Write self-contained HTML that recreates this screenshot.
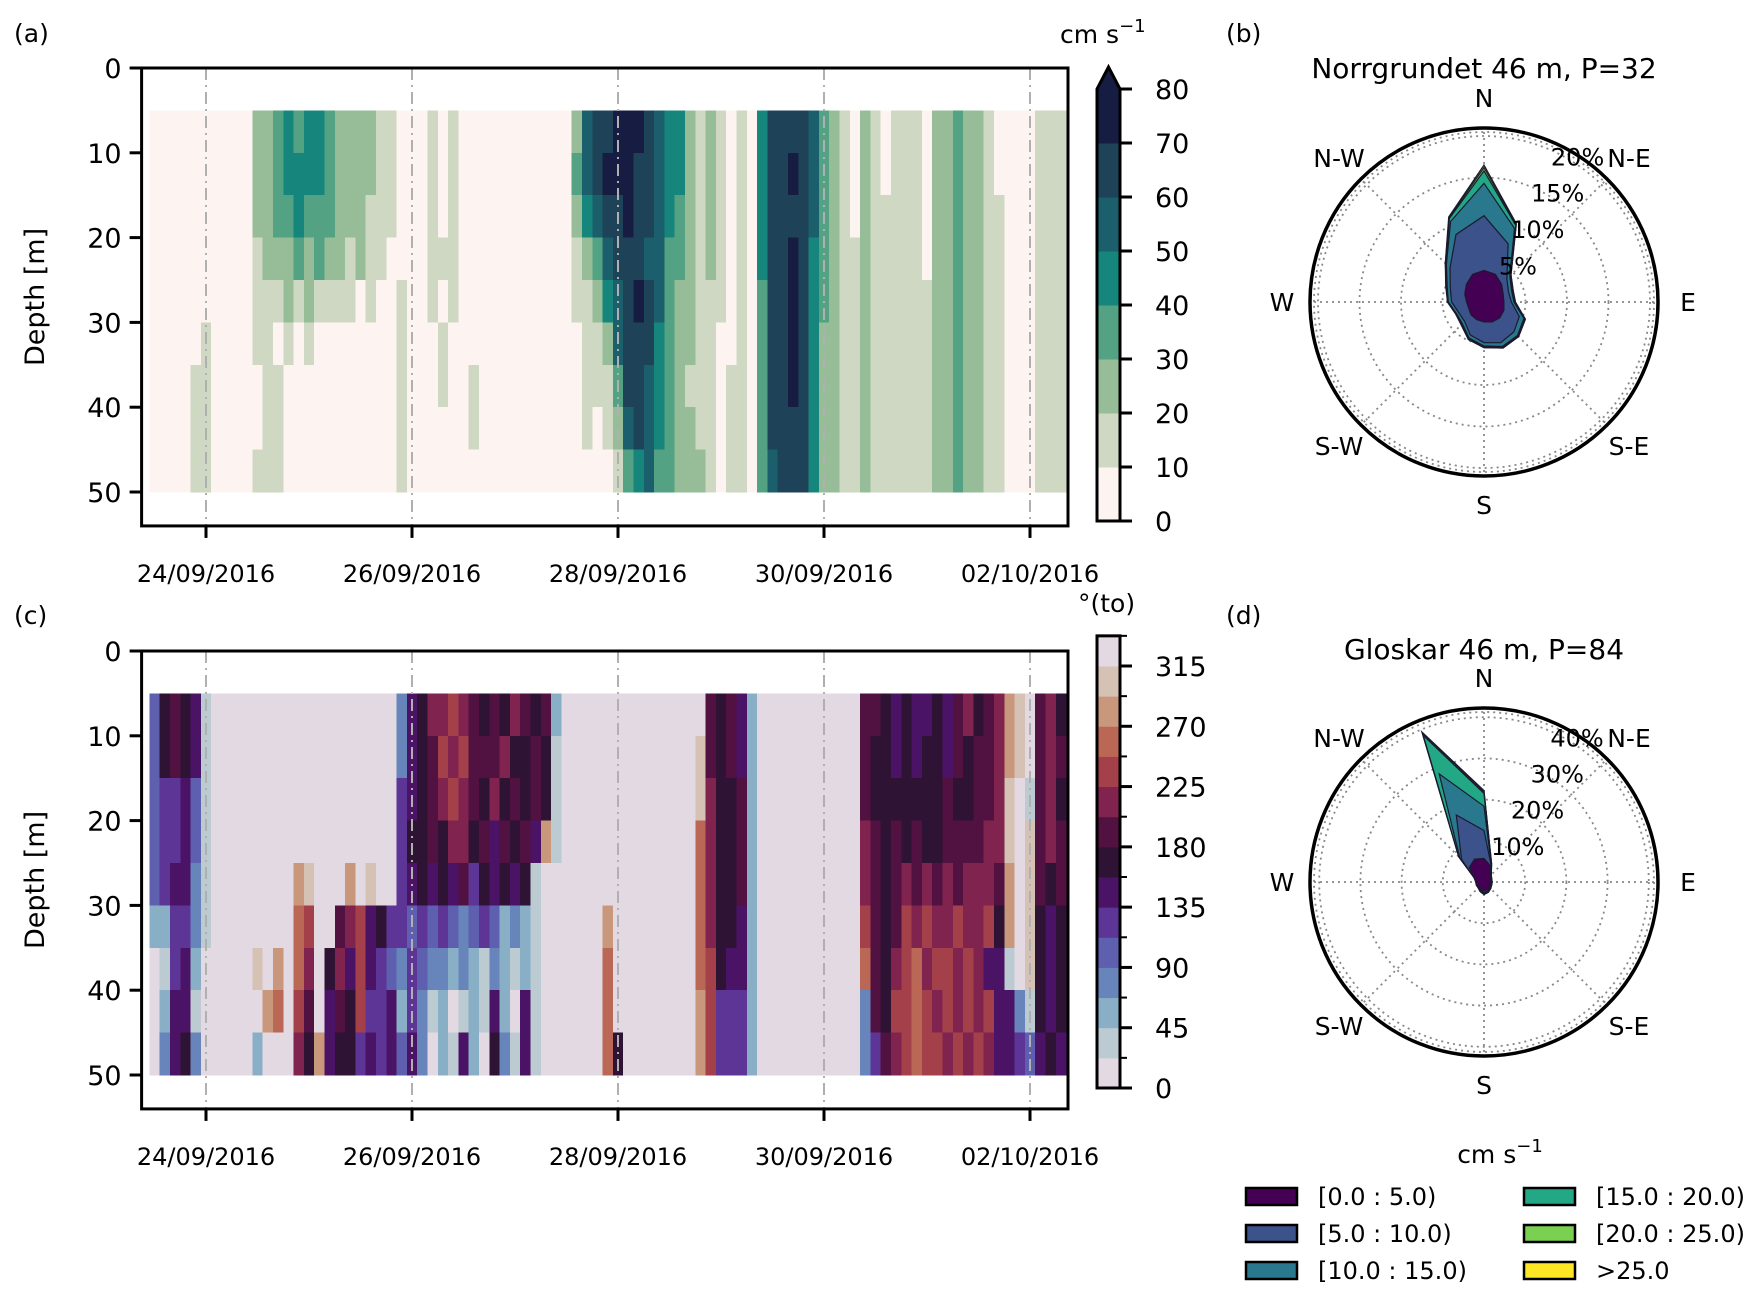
<!DOCTYPE html>
<html><head><meta charset="utf-8">
<style>
html,body{margin:0;padding:0;background:#fff;}
svg text{font-family:"DejaVu Sans","Liberation Sans",sans-serif;fill:#000;}
</style></head>
<body>
<svg id="fig" width="1761" height="1293" viewBox="0 0 1761 1293" xmlns="http://www.w3.org/2000/svg">
<g id="pa"></g>
<g id="pc"></g>
<g id="pb"></g>
<g id="pd"></g>
<g id="leg"></g>
</svg>
<script>
// ---- data ----
const dateTicks = [1,3,5,7,9];
const dateLabels = ['24/09/2016','26/09/2016','28/09/2016','30/09/2016','02/10/2016'];
const depthTicks = [0,10,20,30,40,50];
const colT0 = 0.45, colDt = 0.1;
const speedRows = [
"0000000000"+"22"+"343443"+"222211"+"000"+"1010"+"0000000000"+"25667776544212"+"1010"+"466665"+"321021011102232210000111",
"0000000000"+"22"+"344443"+"222211"+"000"+"1010"+"0000000000"+"35677766544212"+"1010"+"466765"+"321021011102232210000111",
"0000000000"+"22"+"334333"+"222111"+"000"+"1010"+"0000000000"+"24566766543212"+"1010"+"466665"+"321021111102232211000111",
"0000000000"+"12"+"223232"+"212110"+"000"+"1110"+"0000000000"+"12356665533212"+"1010"+"466764"+"321121111102232211000111",
"0000000000"+"11"+"121211"+"110100"+"100"+"1010"+"0000000000"+"11245676532211"+"1010"+"366764"+"321121111112232211000111",
"0000010000"+"11"+"010100"+"000000"+"100"+"0100"+"0000000000"+"01125666432211"+"0010"+"366764"+"221121111112232211000111",
"0000110000"+"01"+"100000"+"000000"+"100"+"0100"+"1000000000"+"01113665432111"+"0110"+"366764"+"221121111112232211000111",
"0000110000"+"01"+"100000"+"000000"+"100"+"0000"+"1000000000"+"01012565432211"+"0110"+"366664"+"221121111112232211000111",
"0000110000"+"11"+"100000"+"000000"+"100"+"0000"+"0000000000"+"00001345332221"+"0110"+"356664"+"221121111112232211000111"
];
const dirRows = [
"478761"+"000000000000000000"+"36799a98787987820"+"000000000000"+"087862"+"0000000000"+"88767667689789cd0897",
"478761"+"000000000000000000"+"3678a9a8889778710"+"000000000000"+"d87862"+"0000000000"+"87767677687889cd0898",
"455641"+"000000000000000000"+"56789a98797878710"+"000000000000"+"d97782"+"0000000000"+"87777777877889d01897",
"455641"+"000000000000000000"+"57787997868786c10"+"000000000000"+"b97782"+"0000000000"+"98787877888899d0d898",
"456631"+"00000000cd000c0d00"+"56767685767671000"+"000000000000"+"b97782"+"0000000000"+"98789898989998c0d878",
"225531"+"00000000ba0089a675"+"54545434542321000"+"000c00000000"+"b97762"+"0000000000"+"a878a9a99a99a7c0d767",
"015620"+"0000d0c0b90796a654"+"35433232132121000"+"000b00000000"+"ba7662"+"0000000000"+"b879ab9aa9a96610d767",
"026610"+"00000cb0a80687a556"+"25312012162061000"+"000b00000000"+"ca5552"+"0000000000"+"387aaba9a9a9a6631767",
"036730"+"0000200097c6775656"+"46302162073161000"+"000b70000000"+"ca5552"+"0000000000"+"3589abaa9a9a96654676"
];
const speedLevels = [0,10,20,30,40,50,60,70,80];
const dirLevels = [0,45,90,135,180,225,270,315];
const roseBinLabels = ['[0.0 : 5.0)','[5.0 : 10.0)','[10.0 : 15.0)','[15.0 : 20.0)','[20.0 : 25.0)','>25.0'];
const roseB0 = [3.8,3.6,3.0,2.5,2.4,2.6,2.7,2.6,2.4,2.3,2.2,2.0,2.1,2.5,3.0,3.6];
const roseB1 = [10.4,7.6,3.9,3.2,3.3,4.6,5.1,5.3,4.9,4.3,3.3,3.3,3.9,4.4,5.8,8.8];
const roseB2 = [14.3,9.6,4.4,3.6,3.6,5.2,5.7,5.8,5.3,4.7,3.7,3.6,4.3,4.8,6.4,10.5];
const roseB3 = [15.8,10.0,4.5,3.7,3.7,5.3,5.8,5.9,5.4,4.8,3.8,3.7,4.4,4.9,6.5,10.9];
const roseB4 = [16.2,10.1,4.6,3.8,3.7,5.4,5.9,6.0,5.5,4.9,3.8,3.7,4.4,4.9,6.6,11.0];
const roseB5 = [16.5,10.2,4.6,3.8,3.8,5.4,5.9,6.0,5.5,4.9,3.9,3.7,4.4,5.0,6.6,11.1];
const roseD0 = [5.7,4.2,2.2,1.8,1.6,1.6,1.8,2.0,2.2,2.0,1.8,1.8,2.0,2.6,5.0,6.0];
const roseD1 = [12.5,4.5,2.3,1.9,1.8,1.8,2.0,2.4,2.6,2.2,1.9,1.9,2.0,2.5,7.7,17.6];
const roseD2 = [18.4,4.6,2.4,2.0,1.9,1.9,2.1,2.6,2.9,2.4,2.0,2.0,2.0,2.5,8.3,28.4];
const roseD3 = [21.5,4.7,2.5,2.0,2.0,2.0,2.2,2.7,3.0,2.5,2.0,2.0,2.0,2.5,8.6,38.5];
const roseD4 = [21.9,4.8,2.5,2.0,2.0,2.0,2.3,2.7,3.0,2.5,2.0,2.0,2.0,2.5,8.7,39.0];
const roseD5 = [22.2,4.8,2.5,2.0,2.0,2.0,2.3,2.7,3.0,2.5,2.0,2.0,2.0,2.5,8.7,39.4];

const speedColors=['#fdf4f2','#cfd8c3','#96bd98','#52a283','#16857c','#1a5f6b','#1e4257','#171d42','#171d42'];
const dirColors=['#e2d9e2','#bccad2','#89afc7','#6785bb','#5e5fae','#5c3597','#4b1366','#2f1335','#521241','#80234e','#a44049','#bb6755','#c9977c','#d6c1b5','#e2d9e2'];
const roseColors=['#440154','#3b528b','#2a788e','#22a884','#7ad151','#fde725'];
const NS='http://www.w3.org/2000/svg';
function mk(parent,tag,attrs,text){const e=document.createElementNS(NS,tag);for(const k in attrs)e.setAttribute(k,attrs[k]);if(text!==undefined)e.textContent=text;parent.appendChild(e);return e;}

const X0=141.6,X1=1068, DAY=103, TREF=206;
function xT(t){return TREF+(t-1)*DAY;}
function yD(top,d){return top+d*8.48;}

function heatPanel(g,top,rows,colors,name){
  const bottom=yD(top,54);
  rows.forEach((row,r)=>{
    for(let i=0;i<row.length;i++){
      const v=parseInt(row[i],16);
      const x=xT(colT0+i*colDt), x2=Math.min(xT(colT0+(i+1)*colDt),X1);
      const rc=mk(g,'rect',{x:x.toFixed(1),y:yD(top,5+5*r).toFixed(1),width:(x2-x+0.6).toFixed(1),height:(5*8.48+0.6).toFixed(1),fill:colors[v],'shape-rendering':'crispEdges'});
      
      
    }
  });
  dateTicks.forEach((t,k)=>{
    const gl=mk(g,'line',{x1:xT(t),x2:xT(t),y1:top,y2:bottom,stroke:'#b0b0b0','stroke-width':2,'stroke-dasharray':'12,5,2,5'});
    
    
    mk(g,'line',{x1:xT(t),x2:xT(t),y1:bottom,y2:bottom+12,stroke:'#000','stroke-width':3});
    const tl=mk(g,'text',{x:xT(t),y:bottom+56,'font-size':24,'text-anchor':'middle'},dateLabels[k]);
    
    
  });
  depthTicks.forEach(d=>{
    mk(g,'line',{x1:X0-12,x2:X0,y1:yD(top,d),y2:yD(top,d),stroke:'#000','stroke-width':3});
    const tl=mk(g,'text',{x:X0-20,y:yD(top,d)+10,'font-size':27,'text-anchor':'end'},String(d));
    
    
  });
  const fr=mk(g,'rect',{x:X0,y:top,width:X1-X0,height:bottom-top,fill:'none',stroke:'#000','stroke-width':3});
  
  
  const yl=mk(g,'text',{x:0,y:0,'font-size':27,'text-anchor':'middle',transform:`translate(44,${(top+bottom)/2}) rotate(-90)`},'Depth [m]');
  
  
}
heatPanel(document.getElementById('pa'),68,speedRows,speedColors,'speed');
heatPanel(document.getElementById('pc'),651,dirRows,dirColors,'direction');

const svg=document.getElementById('fig');
[['(a)',14,42],['(c)',14,624],['(b)',1226,42],['(d)',1226,624]].forEach(p=>{
  const t=mk(svg,'text',{x:p[1],y:p[2],'font-size':25},p[0]);
  
  
});

(function(){
  const g=mk(svg,'g',{});
  
  
  const y0=521,per=(521-89)/80,xa=1097,xb=1120;
  for(let k=0;k<8;k++){
    mk(g,'rect',{x:xa,y:y0-(speedLevels[k+1])*per,width:xb-xa,height:10*per+0.5,fill:speedColors[k]});
  }
  mk(g,'polygon',{points:`${xa},89 ${xb},89 ${(xa+xb)/2},67`,fill:speedColors[7]});
  mk(g,'path',{d:`M${xa},${y0} L${xa},89 L${(xa+xb)/2},67 L${xb},89 L${xb},${y0} Z`,fill:'none',stroke:'#000','stroke-width':3});
  speedLevels.forEach(v=>{
    const y=y0-v*per;
    mk(g,'line',{x1:xb,x2:xb+12,y1:y,y2:y,stroke:'#000','stroke-width':3});
    mk(g,'text',{x:1155,y:y+10,'font-size':27},String(v));
  });
  const u=mk(svg,'text',{x:1060,y:43,'font-size':25},'cm s');
  mk(u,'tspan',{dy:-11,'font-size':18},'−1');
  
  
})();
(function(){
  const g=mk(svg,'g',{});
  
  
  const y0=1088,per=(1088-666)/315,xa=1097,xb=1120;
  for(let k=0;k<15;k++){
    mk(g,'rect',{x:xa,y:y0-(k+1)*22.5*per,width:xb-xa,height:22.5*per+0.5,fill:dirColors[k]});
  }
  mk(g,'rect',{x:xa,y:y0-337.5*per,width:xb-xa,height:337.5*per,fill:'none',stroke:'#000','stroke-width':3});
  for(let k=0;k<=15;k++){
    const y=y0-k*22.5*per, major=k%2===0;
    mk(g,'line',{x1:xb,x2:xb+(major?12:7),y1:y,y2:y,stroke:'#000','stroke-width':major?3:2});
  }
  dirLevels.forEach(v=>{
    mk(g,'text',{x:1155,y:y0-v*per+10,'font-size':27},String(v));
  });
  const u=mk(svg,'text',{x:1078,y:612,'font-size':25},'°(to)');
  
  
})();

function rose(g,cx,cy,R,pxPer,ringVals,bins,title,titleY){
  const dirs=['N','N-E','E','S-E','S','S-W','W','N-W'];
  const tt=mk(g,'text',{x:cx,y:titleY,'font-size':28,'text-anchor':'middle'},title);
  
  
  ringVals.forEach(v=>{
    mk(g,'circle',{cx:cx,cy:cy,r:v*pxPer,fill:'none',stroke:'#888','stroke-width':1.8,'stroke-dasharray':'2,4'});
  });
  mk(g,'circle',{cx:cx,cy:cy,r:R-4,fill:'none',stroke:'#888','stroke-width':1.8,'stroke-dasharray':'2,4'});
  for(let k=0;k<8;k++){
    const a=k*Math.PI/4;
    mk(g,'line',{x1:cx,y1:cy,x2:cx+(R-4)*Math.sin(a),y2:cy-(R-4)*Math.cos(a),stroke:'#888','stroke-width':1.8,'stroke-dasharray':'2,4'});
  }
  for(let b=bins.length-1;b>=0;b--){
    const pts=bins[b].map((v,i)=>{const a=i*Math.PI/8;return (cx+v*pxPer*Math.sin(a)).toFixed(1)+','+(cy-v*pxPer*Math.cos(a)).toFixed(1);}).join(' ');
    const p=mk(g,'polygon',{points:pts,fill:roseColors[b],stroke:'#1a1a2e','stroke-width':1.2});
    
    
  }
  ringVals.forEach(v=>{
    const a=0.5, r=v*pxPer;
    mk(g,'text',{x:cx+r*Math.sin(a)+14,y:cy-r*Math.cos(a)+9,'font-size':24,'text-anchor':'middle'},v+'%');
  });
  mk(g,'circle',{cx:cx,cy:cy,r:R,fill:'none',stroke:'#000','stroke-width':3.5});
  const off=[[0,-204],[145,-144],[204,0],[145,144],[0,203],[-145,144],[-202,0],[-145,-144]];
  dirs.forEach((d,k)=>{
    const t=mk(g,'text',{x:cx+off[k][0],y:cy+off[k][1]+9,'font-size':25,'text-anchor':'middle'},d);
    
    
  });
}
rose(document.getElementById('pb'),1484,302,174,8.3,[5,10,15,20],[roseB0,roseB1,roseB2,roseB3,roseB4,roseB5],'Norrgrundet 46 m, P=32',78);
rose(document.getElementById('pd'),1484,882,174,4.12,[10,20,30,40],[roseD0,roseD1,roseD2,roseD3,roseD4,roseD5],'Gloskar 46 m, P=84',659);

(function(){
  const g=document.getElementById('leg');
  const t=mk(g,'text',{x:1500,y:1163,'font-size':25,'text-anchor':'middle'},'cm s');
  mk(t,'tspan',{dy:-11,'font-size':18},'−1');
  const cols=[1246,1524], rows=[1197,1234,1271];
  roseBinLabels.forEach((lab,k)=>{
    const c=Math.floor(k/3), r=k%3;
    const e=mk(g,'g',{});
    
    
    mk(e,'rect',{x:cols[c],y:rows[r]-9,width:51,height:17,fill:roseColors[k],stroke:'#000','stroke-width':2.5});
    mk(e,'text',{x:cols[c]+72,y:rows[r]+8,'font-size':24},lab);
  });
})();
</script>
</body></html>
